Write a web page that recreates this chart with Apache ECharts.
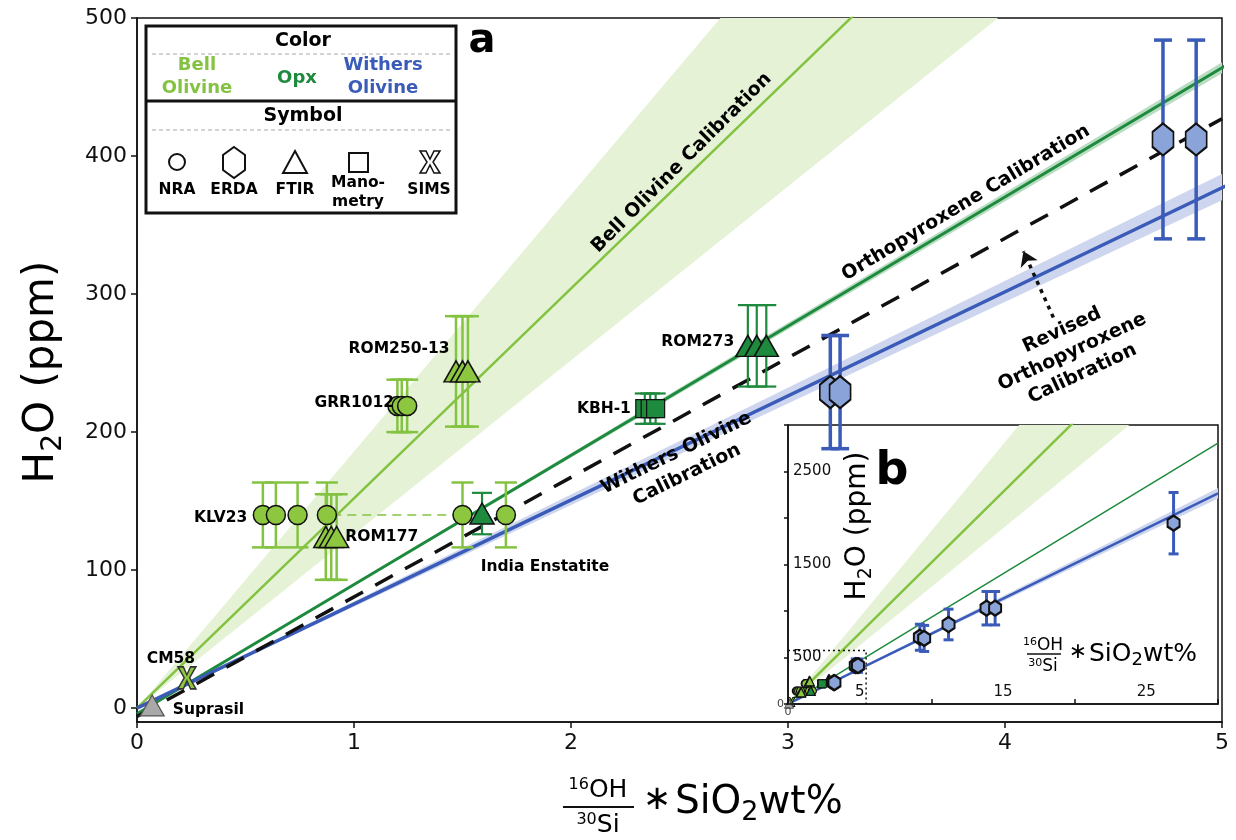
<!DOCTYPE html>
<html><head><meta charset="utf-8">
<script src="https://cdn.jsdelivr.net/npm/echarts@6/dist/echarts.min.js"></script>
<style>html,body{margin:0;padding:0;background:#fff}#c{width:1236px;height:840px}</style>
</head><body><div id="c"></div>
<script>
// ---------------- data ----------------
const xTickLabels = ['0', '1', '2', '3', '4', '5'];
const insetXLabels = [5, 15, 25];
const insetYLabels = [500, 1500, 2500];

// calibration lines [x, H2O]
const bellLine        = [[0, 0], [5, 760], [30, 4560]];
const bellBandLow     = [[0, 0], [5, 630], [30, 3780]];
const bellBandHigh    = [[0, 0], [5, 930], [30, 5580]];
const opxLine         = [[0, -4], [5, 464], [30, 2805]];
const opxBandLow      = [[0, -4], [5, 460], [30, 2780]];
const opxBandHigh     = [[0, -4], [5, 468], [30, 2830]];
const withersLine     = [[0, 0], [5, 377], [30, 2265]];
const withersBandLow  = [[0, 0], [5, 368], [30, 2210]];
const withersBandHigh = [[0, 0], [5, 387], [30, 2322]];
const revisedLine     = [[0, -6], [5, 427]];
const klvGuide        = [[0.9, 140], [1.49, 140]];

// samples [x, H2O, error]
const klv23   = [[0.58, 140, 23.5], [0.64, 140, 23.5], [0.74, 140, 23.5], [0.875, 140, 23.5], [1.50, 140, 23.5], [1.70, 140, 23.5]];
const grr1012 = [[1.20, 219, 19], [1.22, 219, 19], [1.245, 219, 19]];
const rom177  = [[0.87, 124, 31], [0.895, 124, 31], [0.92, 124, 31]];
const rom25013 = [[1.47, 244, 40], [1.50, 244, 40], [1.525, 244, 40]];
const cm58    = [[0.23, 22]];
const suprasil = [[0.07, 2]];
const indiaEnstatite = [[1.59, 141, 15]];
const rom273  = [[2.815, 262.5, 29.5], [2.856, 262.5, 29.5], [2.90, 262.5, 29.5]];
const kbh1    = [[2.34, 217, 11], [2.365, 217, 11], [2.39, 217, 11]];
const withersERDA = [[3.195, 229, 41], [3.24, 229, 41], [4.728, 412, 72], [4.881, 412, 72]];
const withersInset = [[9.2, 718, 140], [9.5, 705, 140], [11.2, 855, 165], [13.85, 1030, 180], [14.45, 1030, 180], [26.9, 1944, 330]];
const insetZoomBox = [[0, 575], [5.45, 575], [5.45, 0]];
const arrowCoords = [[4.223, 283], [4.085, 331]];

const pointLabels = [
  ['ROM250-13', 1.44, 260], ['GRR1012', 1.185, 221], ['KLV23', 0.508, 138],
  ['ROM177', 0.96, 124], ['India Enstatite', 1.584, 102], ['ROM273', 2.752, 265],
  ['KBH-1', 2.276, 217], ['CM58', 0.045, 36], ['Suprasil', 0.165, -1]
];
const calibLabels = [
  ['Bell Olivine Calibration', 2.51, 395],
  ['Orthopyroxene Calibration', 3.82, 366],
  ['Withers Olivine\nCalibration', 2.51, 177],
  ['Revised\nOrthopyroxene\nCalibration', 4.31, 258]
];

// ---------------- styles ----------------
const labelSide = {'ROM250-13': 'left', 'GRR1012': 'left', 'KLV23': 'left', 'ROM177': 'right', 'India Enstatite': 'right', 'ROM273': 'left', 'KBH-1': 'left', 'CM58': 'right', 'Suprasil': 'right'};
const calibRotate = {'Bell Olivine Calibration': 45, 'Orthopyroxene Calibration': 31, 'Withers Olivine\nCalibration': 26, 'Revised\nOrthopyroxene\nCalibration': 25};
const FONT = 'DejaVu Sans';
const C = {
  bell: '#84c341', bellFill: '#8dc63f', bellBand: '#e5f2d6',
  opx: '#1d8a3d', opxBand: '#b9dcc2',
  withers: '#3a5bb8', withersBand: '#cdd6ee', withersFill: '#8aa3d9',
  gray: '#a8a8a8', ink: '#000'
};
const HEX = 'path://M10 0L20 8L20 22L10 30L0 22L0 8Z';
const XSYM = 'path://M0 0L6 0L10 8L14 0L20 0L13 11L20 22L14 22L10 14L6 22L0 22L7 11Z';

// ---------------- helpers ----------------
function lineS(data, color, width, ax, z, extra) {
  return Object.assign({type: 'line', data: data, xAxisIndex: ax, yAxisIndex: ax, symbol: 'none', silent: true, z: z,
    clip: true, lineStyle: {color: color, width: width}}, extra || {});
}
function bandS(low, high, color, ax) {
  const poly = low.concat(high.slice().reverse());
  return {type: 'custom', xAxisIndex: ax, yAxisIndex: ax, z: 1, silent: true, clip: true,
    data: [poly[0]], encode: {x: 0, y: 1},
    renderItem: function (params, api) {
      const pts = poly.map(p => api.coord(p));
      const cs = params.coordSys;
      return {type: 'polygon', shape: {points: pts}, style: {fill: color},
        clipPath: {type: 'rect', shape: {x: cs.x, y: cs.y, width: cs.width, height: cs.height}}};
    }};
}
function scatS(data, symbol, size, fill, border, bw, ax, z) {
  return {type: 'scatter', data: data.map(p => [p[0], p[1]]), symbol: symbol, symbolSize: size, xAxisIndex: ax, yAxisIndex: ax,
    z: z, silent: true, itemStyle: {color: fill, borderColor: border, borderWidth: bw, opacity: 1}};
}
function errS(data, color, lw, capW, ax, z) {
  return {type: 'custom', xAxisIndex: ax, yAxisIndex: ax, z: z, silent: true,
    data: data, encode: {x: 0, y: 1},
    renderItem: function (params, api) {
      const x = api.value(0), y = api.value(1), e = api.value(2);
      const t = api.coord([x, y + e]), b = api.coord([x, y - e]);
      const h = capW / 2, st = {stroke: color, lineWidth: lw};
      return {type: 'group', children: [
        {type: 'line', shape: {x1: t[0], y1: t[1], x2: b[0], y2: b[1]}, style: st},
        {type: 'line', shape: {x1: t[0] - h, y1: t[1], x2: t[0] + h, y2: t[1]}, style: st},
        {type: 'line', shape: {x1: b[0] - h, y1: b[1], x2: b[0] + h, y2: b[1]}, style: st}
      ]};
    }};
}
function labelS(items, labelOpt) {
  return {type: 'custom', xAxisIndex: 0, yAxisIndex: 0, z: 6, silent: true,
    data: items.map(p => [p[1], p[2]]), encode: {x: 0, y: 1},
    renderItem: function (params, api) {
      const it = items[params.dataIndex];
      const pt = api.coord([api.value(0), api.value(1)]);
      const o = labelOpt(it[0]);
      return {type: 'text', x: pt[0], y: pt[1], rotation: (o.rotate || 0) * Math.PI / 180,
        style: {text: it[0], fill: '#000', fontFamily: FONT, fontWeight: 'bold', fontSize: o.size, lineHeight: o.lh,
          align: o.align, verticalAlign: 'middle', textAlign: o.align, textVerticalAlign: 'middle'}};
    }};
}
function txt(text, x, y, size, color, opts) {
  return Object.assign({type: 'text', x: x, y: y, z: 100, silent: true,
    style: Object.assign({text: text, fill: color || C.ink, fontSize: size, fontFamily: FONT, fontWeight: 'bold',
      align: 'center', verticalAlign: 'middle', textAlign: 'center', textVerticalAlign: 'middle'}, (opts && opts.style) || {})},
    (opts && opts.el) || {});
}

// ---------------- series ----------------
const series = [];
// main panel (axis index 0)
series.push(bandS(bellBandLow, bellBandHigh, C.bellBand, 0));
series.push(bandS(withersBandLow, withersBandHigh, C.withersBand, 0));
series.push(bandS(opxBandLow, opxBandHigh, C.opxBand, 0));
series.push(lineS(bellLine, C.bell, 2.5, 0, 2));
series.push(lineS(opxLine, C.opx, 3, 0, 2));
series.push(lineS(withersLine, C.withers, 3.5, 0, 2));
series.push(lineS(revisedLine, C.ink, 3.5, 0, 3, {lineStyle: {color: '#111', width: 3.5, type: [20, 14]}}));
series.push(lineS(klvGuide, C.bell, 1.5, 0, 3, {lineStyle: {color: C.bell, width: 1.5, type: [9, 6]}}));
// error bars
series.push(errS(klv23.concat(grr1012, rom177, rom25013), C.bell, 2.5, 22, 0, 4));
series.push(errS(indiaEnstatite.concat(rom273, kbh1), C.opx, 2.2, 20, 0, 4));
series.push(errS(withersERDA, C.withers, 3.5, 18, 0, 4));
// markers
series.push(scatS(klv23.concat(grr1012), 'circle', 19, C.bellFill, '#111', 1.5, 0, 5));
series.push(scatS(rom177.concat(rom25013), 'triangle', [24, 21], C.bellFill, '#111', 1.5, 0, 5));
series.push(scatS(cm58, XSYM, [18, 22], C.bellFill, '#333', 1.5, 0, 5));
series.push(scatS(suprasil, 'triangle', [24, 21], C.gray, '#555', 1.2, 0, 5));
series.push(scatS(indiaEnstatite.concat(rom273), 'triangle', [24, 21], C.opx, '#111', 1.5, 0, 5));
series.push(scatS(kbh1, 'rect', 18, C.opx, '#111', 1.2, 0, 5));
series.push(scatS(withersERDA, HEX, [21, 32], C.withersFill, '#111', 2, 0, 5));
// arrow
series.push({type: 'lines', coordinateSystem: 'cartesian2d', xAxisIndex: 0, yAxisIndex: 0, silent: true, z: 5,
  symbol: ['none', 'arrow'], symbolSize: 14, data: [{coords: arrowCoords}],
  lineStyle: {color: '#111', width: 3.5, type: [4, 5], opacity: 1}});
// text labels anchored in data space
series.push(labelS(pointLabels, name => ({size: 15.5, lh: 19, align: labelSide[name] === 'left' ? 'right' : 'left'})));
series.push(labelS(calibLabels, name => ({size: 19, lh: 24, align: 'center', rotate: calibRotate[name]})));

// inset panel (axis index 1)
series.push(bandS(bellBandLow, bellBandHigh, C.bellBand, 1));
series.push(bandS(withersBandLow, withersBandHigh, C.withersBand, 1));
series.push(lineS(bellLine, C.bell, 2.5, 1, 2));
series.push(lineS(opxLine, C.opx, 1.5, 1, 2));
series.push(lineS(withersLine, C.withers, 2.5, 1, 2));
series.push(lineS(insetZoomBox, C.ink, 1.5, 1, 3, {lineStyle: {color: '#111', width: 1.5, type: [2, 3]}}));
series.push(errS(withersERDA.concat(withersInset), C.withers, 3, 10, 1, 4));
series.push(scatS(klv23.concat(grr1012), 'circle', 8, C.bellFill, '#111', 1.2, 1, 5));
series.push(scatS(rom177.concat(rom25013), 'triangle', 9, C.bellFill, '#111', 1.2, 1, 5));
series.push(scatS(cm58, XSYM, [7, 9], C.bellFill, '#111', 1, 1, 5));
series.push(scatS(suprasil, 'triangle', 9, C.gray, '#555', 1, 1, 5));
series.push(scatS(indiaEnstatite.concat(rom273), 'triangle', 9, C.opx, '#111', 1.2, 1, 5));
series.push(scatS(kbh1, 'rect', 8, C.opx, '#111', 1, 1, 5));
series.push(scatS(withersERDA.concat(withersInset), HEX, [12, 15], C.withersFill, '#111', 2.2, 1, 5));

// ---------------- axes ----------------
const xAxis = [
  {gridIndex: 0, type: 'value', min: 0, max: 5, interval: 1,
    axisLine: {onZero: false, lineStyle: {color: '#111', width: 1.5}},
    axisTick: {length: 6, lineStyle: {color: '#111', width: 1.5}},
    axisLabel: {fontSize: 22, color: '#111', fontFamily: FONT, margin: 10, formatter: v => xTickLabels[Math.round(v)]},
    splitLine: {show: false}},
  {gridIndex: 1, type: 'value', min: 0, max: 30, interval: 10, position: 'bottom', z: 10,
    axisLine: {onZero: false, lineStyle: {color: '#111', width: 1.5}},
    axisTick: {inside: true, length: 5, lineStyle: {color: '#111', width: 1.5}},
    axisLabel: {fontSize: 11, color: '#444', fontFamily: FONT, margin: 3, formatter: v => (v === 0 ? '0' : '')},
    splitLine: {show: false}},
  {gridIndex: 1, type: 'value', min: 0, max: 30, interval: 5, position: 'bottom', z: 10,
    axisLine: {show: false}, axisTick: {show: false},
    axisLabel: {inside: true, fontSize: 15, color: '#111', fontFamily: FONT, margin: 4,
      formatter: v => (insetXLabels.indexOf(v) >= 0 ? String(v) : '')},
    splitLine: {show: false}}
];
const yAxis = [
  {gridIndex: 0, type: 'value', min: -10, max: 500, splitNumber: 5,
    axisLine: {onZero: false, lineStyle: {color: '#111', width: 1.5}},
    axisTick: {length: 6, lineStyle: {color: '#111', width: 1.5}},
    axisLabel: {fontSize: 22, color: '#111', fontFamily: FONT, margin: 10, showMinLabel: false},
    splitLine: {show: false}},
  {gridIndex: 1, type: 'value', min: 0, max: 3000, interval: 500, position: 'left', z: 10,
    axisLine: {onZero: false, lineStyle: {color: '#111', width: 1.5}},
    axisTick: {length: 4, lineStyle: {color: '#111', width: 1.5}},
    axisLabel: {fontSize: 11, color: '#444', fontFamily: FONT, margin: 4, formatter: v => (v === 0 ? '0' : '')},
    splitLine: {show: false}},
  {gridIndex: 1, type: 'value', min: 0, max: 3000, interval: 500, position: 'left', z: 10,
    axisLine: {show: false}, axisTick: {show: false},
    axisLabel: {inside: true, fontSize: 15, color: '#111', fontFamily: FONT, margin: 5,
      formatter: v => (insetYLabels.indexOf(v) >= 0 ? String(v) : '')},
    splitLine: {show: false}}
];

// ---------------- decorations (legend box, titles) ----------------
const thin = {fill: '#fff', stroke: '#111', lineWidth: 2};
const graphic = [
  // legend box
  {type: 'rect', z: 100, silent: true, shape: {x: 146, y: 26, width: 310, height: 187}, style: {fill: '#fff', stroke: '#111', lineWidth: 3}},
  {type: 'line', z: 101, silent: true, shape: {x1: 146, y1: 101, x2: 456, y2: 101}, style: {stroke: '#111', lineWidth: 3}},
  {type: 'line', z: 101, silent: true, shape: {x1: 152, y1: 54, x2: 452, y2: 54}, style: {stroke: '#aaa', lineWidth: 1.2, lineDash: [4, 3]}},
  {type: 'line', z: 101, silent: true, shape: {x1: 152, y1: 130, x2: 452, y2: 130}, style: {stroke: '#aaa', lineWidth: 1.2, lineDash: [4, 3]}},
  txt('Color', 303, 41, 19),
  txt('Bell\nOlivine', 197, 77, 18, C.bell, {style: {lineHeight: 23}}),
  txt('Opx', 297, 78, 18, C.opx),
  txt('Withers\nOlivine', 383, 77, 18, C.withers, {style: {lineHeight: 23}}),
  txt('Symbol', 303, 116, 19),
  {type: 'circle', z: 101, silent: true, shape: {cx: 177, cy: 162, r: 8}, style: thin},
  {type: 'polygon', z: 101, silent: true, shape: {points: [[234, 147], [245, 155], [245, 170], [234, 178], [223, 170], [223, 155]]}, style: thin},
  {type: 'polygon', z: 101, silent: true, shape: {points: [[295, 151], [307, 173], [283, 173]]}, style: thin},
  {type: 'rect', z: 101, silent: true, shape: {x: 349, y: 153, width: 19, height: 19}, style: thin},
  {type: 'polygon', z: 101, silent: true, shape: {points: [[420, 151], [426, 151], [430, 159], [434, 151], [440, 151], [433, 162], [440, 173], [434, 173], [430, 165], [426, 173], [420, 173], [427, 162]]}, style: {fill: '#fff', stroke: '#111', lineWidth: 1.5}},
  txt('NRA', 177, 190, 15.5),
  txt('ERDA', 234, 190, 15.5),
  txt('FTIR', 295, 190, 15.5),
  txt('Mano-\nmetry', 358, 192, 15.5, C.ink, {style: {lineHeight: 19}}),
  txt('SIMS', 429, 190, 15.5),
  // panel letters
  txt('a', 482, 42, 40),
  txt('b', 892, 472, 46),
  // main y title
  txt('H{s|2}O (ppm)', 42, 372, 42, C.ink, {style: {fontWeight: 'normal', rich: {s: {fontSize: 28, fontFamily: FONT, verticalAlign: 'bottom', padding: [24, 0, 0, 0]}}},
    el: {rotation: Math.PI / 2}}),
  // main x title
  txt('{s|16}OH', 598, 790, 25, C.ink, {style: {fontWeight: 'normal', rich: {s: {fontSize: 16, fontFamily: FONT, verticalAlign: 'top', padding: [0, 0, 10, 0]}}}}),
  {type: 'line', z: 100, silent: true, shape: {x1: 563, y1: 807, x2: 634, y2: 807}, style: {stroke: '#111', lineWidth: 2}},
  txt('{s|30}Si', 598, 825, 25, C.ink, {style: {fontWeight: 'normal', rich: {s: {fontSize: 16, fontFamily: FONT, verticalAlign: 'top', padding: [0, 0, 10, 0]}}}}),
  txt('\u2217', 657, 800, 34, C.ink, {style: {fontWeight: 'normal'}}),
  txt('SiO{s|2}wt%', 675, 803, 39, C.ink, {style: {fontWeight: 'normal', align: 'left', textAlign: 'left', rich: {s: {fontSize: 27, fontFamily: FONT, verticalAlign: 'bottom', padding: [20, 0, 0, 0]}}}}),
  // inset y title
  txt('H{s|2}O (ppm)', 858, 526, 28, C.ink, {style: {fontWeight: 'normal', rich: {s: {fontSize: 19, fontFamily: FONT, verticalAlign: 'bottom', padding: [16, 0, 0, 0]}}},
    el: {rotation: Math.PI / 2}}),
  // inset x title
  txt('{s|16}OH', 1043, 646, 17, C.ink, {style: {fontWeight: 'normal', rich: {s: {fontSize: 11, fontFamily: FONT, verticalAlign: 'top', padding: [0, 0, 7, 0]}}}}),
  {type: 'line', z: 100, silent: true, shape: {x1: 1027, y1: 654, x2: 1061, y2: 654}, style: {stroke: '#111', lineWidth: 1.5}},
  txt('{s|30}Si', 1043, 667, 17, C.ink, {style: {fontWeight: 'normal', rich: {s: {fontSize: 11, fontFamily: FONT, verticalAlign: 'top', padding: [0, 0, 7, 0]}}}}),
  txt('\u2217', 1078, 652, 22, C.ink, {style: {fontWeight: 'normal'}}),
  txt('SiO{s|2}wt%', 1089, 654, 25, C.ink, {style: {fontWeight: 'normal', align: 'left', textAlign: 'left', rich: {s: {fontSize: 18, fontFamily: FONT, verticalAlign: 'bottom', padding: [13, 0, 0, 0]}}}})
];

const option = {
  animation: false,
  backgroundColor: '#fff',
  textStyle: {fontFamily: FONT},
  grid: [
    {left: 137, top: 18, width: 1085, height: 704, show: true, borderColor: '#111', borderWidth: 1.5, backgroundColor: 'rgba(0,0,0,0)', containLabel: false, outerBoundsMode: 'none'},
    {left: 788, top: 425, width: 430, height: 279, show: true, borderColor: '#111', borderWidth: 1.5, backgroundColor: '#fff', containLabel: false, outerBoundsMode: 'none'}
  ],
  xAxis: xAxis,
  yAxis: yAxis,
  series: series,
  graphic: graphic
};
const chart = echarts.init(document.getElementById('c'));
chart.setOption(option);
</script>
</body></html>
